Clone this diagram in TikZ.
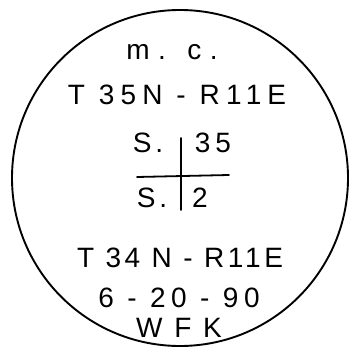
\documentclass[tikz,border=0pt]{standalone}
\usepackage{fontspec}
\setmainfont{Liberation Sans}
\begin{document}
\begin{tikzpicture}[x=1pt,y=-1pt,
  hand/.style={inner sep=0pt, anchor=center, font=\fontsize{28}{28}\selectfont\addfontfeature{LetterSpace=#1}},
  hand/.default=18,
  ink/.style={line width=1.8pt, line cap=round}]
\useasboundingbox (0,0) rectangle (350,350);
\node[draw, circle, line width=1.9pt, minimum size=336pt, inner sep=0pt] (rim) at (180,178) {};
\node[hand=30] (mc) at (172,52) {m. c.};
\node[hand=22] (t35) at (177,95) {T 35N - R11E};
\node[hand=14] (s1) at (148,143) {S.};
\node[hand=18] (n35) at (213,143) {35};
\node[hand=14] (s2) at (152,198) {S.};
\node[hand=14] (n2) at (200,198) {2};
\coordinate (vt) at (181,138);
\coordinate (vb) at (181,210);
\coordinate (hl) at (137,177);
\coordinate (hr) at (229,175);
\draw[ink] (vt) -- (vb);
\draw[ink] (hl) -- (hr);
\node[hand=13] (t34) at (180,258) {T 34 N - R11E};
\node[hand=20] (date) at (179,298) {6 - 20 - 90};
\node[hand=42] (wfk) at (179,328) {WFK};
\end{tikzpicture}
\end{document}
